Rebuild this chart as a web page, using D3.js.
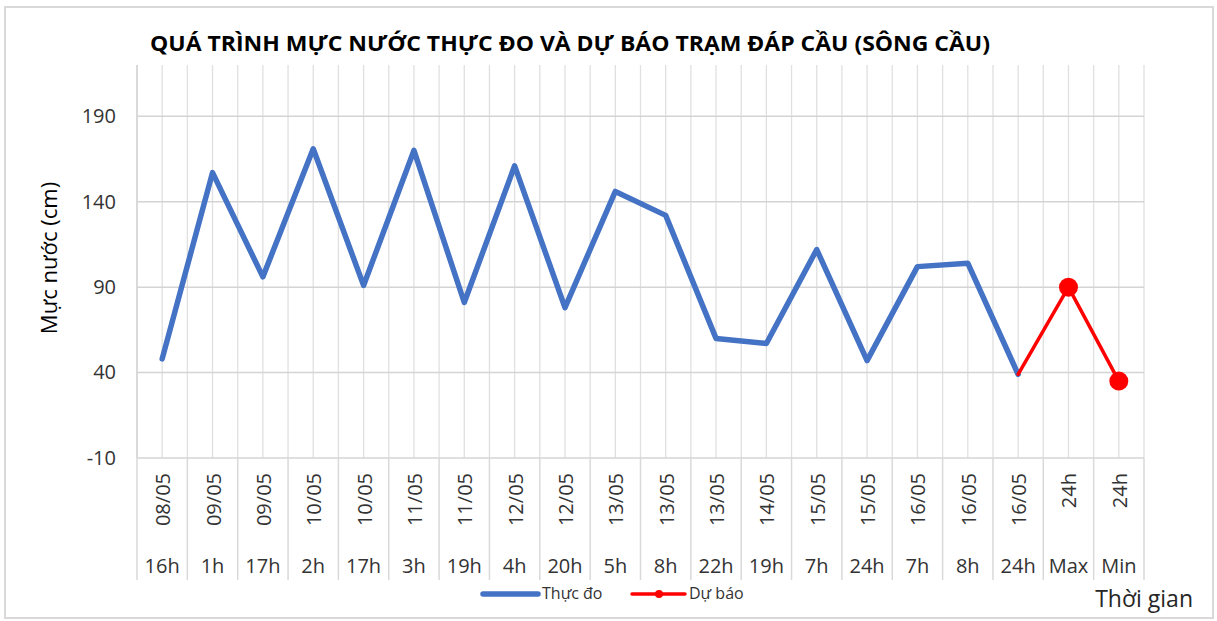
<!DOCTYPE html>
<html><head><meta charset="utf-8">
<script src="https://cdn.jsdelivr.net/npm/d3@7"></script>
<style>
html,body{margin:0;padding:0;background:#fff;}
svg{display:block;font-family:"Open Sans","Noto Sans",sans-serif;}
</style></head>
<body>
<svg id="chart" width="1217" height="621"></svg>
<script>
const dates = ["08/05","09/05","09/05","10/05","10/05","11/05","11/05","12/05","12/05","13/05","13/05","13/05","14/05","15/05","15/05","16/05","16/05","16/05","24h","24h"];
const hours = ["16h","1h","17h","2h","17h","3h","19h","4h","20h","5h","8h","22h","19h","7h","24h","7h","8h","24h","Max","Min"];
const observed = [48,157,96,171,91,170,81,161,78,146,132,60,57,112,47,102,104,39,null,null];
const forecast = [null,null,null,null,null,null,null,null,null,null,null,null,null,null,null,null,null,39,90,35];
const yTicks = [-10,40,90,140,190];
const title = "QUÁ TRÌNH MỰC NƯỚC THỰC ĐO VÀ DỰ BÁO TRẠM ĐÁP CẦU (SÔNG CẦU)";
const yTitle = "Mực nước (cm)";
const xTitle = "Thời gian";
const seriesNames = ["Thực đo","Dự báo"];

const svg = d3.select("#chart");
const L = 137, R = 1144, T = 65, B = 458;
const idx = d3.range(dates.length);
const x = d3.scaleBand().domain(idx).range([L, R]).padding(0);
const bw = x.bandwidth();
const cx = i => x(i) + bw / 2;
const y = d3.scaleLinear().domain([-10, 220]).range([B, T]);
const labelColor = "#333";

// outer frame
svg.append("rect").attr("x",5).attr("y",7).attr("width",1208).attr("height",611)
  .attr("fill","#fff").attr("stroke","#d9d9d9").attr("stroke-width",2);

// vertical gridlines: boundaries and centers
const vlines = [];
idx.forEach(i => { vlines.push(x(i)); vlines.push(cx(i)); });
vlines.push(R);
svg.append("g").selectAll("line").data(vlines).join("line")
  .attr("x1",d=>d).attr("x2",d=>d).attr("y1",T).attr("y2",B)
  .attr("stroke","#e0e0e0").attr("stroke-width",1.3);

// horizontal gridlines
svg.append("g").selectAll("line").data(yTicks).join("line")
  .attr("x1",L).attr("x2",R).attr("y1",d=>y(d)).attr("y2",d=>y(d))
  .attr("stroke","#d4d4d4").attr("stroke-width",1.5);

// left axis line
svg.append("line").attr("x1",L).attr("x2",L).attr("y1",T).attr("y2",B)
  .attr("stroke","#d4d4d4").attr("stroke-width",1.5);

// category dividers below axis
const dividers = idx.map(i => x(i)).concat([R]);
svg.append("g").selectAll("line").data(dividers).join("line")
  .attr("x1",d=>d).attr("x2",d=>d).attr("y1",B).attr("y2",580)
  .attr("stroke","#d9d9d9").attr("stroke-width",1.5);

// y axis labels
const yAxis = d3.axisLeft(y).tickValues(yTicks).tickSize(0).tickPadding(0).tickFormat(d => String(d));
const gy = svg.append("g").attr("transform",`translate(116,0)`).call(yAxis);
gy.select(".domain").remove();
gy.selectAll("text").attr("font-size",20).attr("fill",labelColor)
  .attr("font-family",'"Open Sans","Noto Sans",sans-serif');

// date labels (rotated)
svg.append("g").selectAll("text").data(idx).join("text")
  .attr("transform", i => `translate(${cx(i)+8},473) rotate(-90)`)
  .attr("text-anchor","end").attr("font-size",20).attr("fill",labelColor)
  .text(i => dates[i]);

// hour labels
svg.append("g").selectAll("text").data(idx).join("text")
  .attr("x", i => cx(i)).attr("y",573)
  .attr("text-anchor","middle").attr("font-size",20).attr("fill",labelColor)
  .text(i => hours[i]);

// lines
const line = d3.line().defined(d => d.v != null).x(d => cx(d.i)).y(d => y(d.v));
svg.append("path").datum(observed.map((v,i)=>({i,v})))
  .attr("d",line).attr("fill","none").attr("stroke","#4472C4")
  .attr("stroke-width",5.5).attr("stroke-linejoin","round").attr("stroke-linecap","round");
svg.append("path").datum(forecast.map((v,i)=>({i,v})))
  .attr("d",line).attr("fill","none").attr("stroke","#FF0000")
  .attr("stroke-width",3.5).attr("stroke-linejoin","round").attr("stroke-linecap","round");
svg.append("g").selectAll("circle")
  .data(forecast.map((v,i)=>({i,v})).filter(d=>d.v!=null && d.i>17))
  .join("circle").attr("cx",d=>cx(d.i)).attr("cy",d=>y(d.v)).attr("r",9.5).attr("fill","#FF0000");

// title
svg.append("text").attr("x",150).attr("y",51).attr("font-size",22).attr("font-weight","bold")
  .attr("fill","#000").attr("textLength",840).attr("lengthAdjust","spacingAndGlyphs")
  .text(title);

// y title
svg.append("text").attr("transform","translate(57,258) rotate(-90)")
  .attr("text-anchor","middle").attr("font-size",22).attr("fill","#000").text(yTitle);

// x title
svg.append("text").attr("x",1193).attr("y",607).attr("text-anchor","end")
  .attr("font-size",23).attr("fill","#262626").text(xTitle);

// legend
const lg = svg.append("g");
lg.append("line").attr("x1",483).attr("x2",538).attr("y1",594).attr("y2",594)
  .attr("stroke","#4472C4").attr("stroke-width",5.5).attr("stroke-linecap","round");
lg.append("text").attr("x",542).attr("y",599).attr("font-size",16).attr("fill",labelColor).text(seriesNames[0]);
lg.append("line").attr("x1",632).attr("x2",685).attr("y1",594).attr("y2",594)
  .attr("stroke","#FF0000").attr("stroke-width",3.5).attr("stroke-linecap","round");
lg.append("circle").attr("cx",659).attr("cy",594).attr("r",4).attr("fill","#FF0000");
lg.append("text").attr("x",689).attr("y",599).attr("font-size",16).attr("fill",labelColor).text(seriesNames[1]);
</script>
</body></html>
